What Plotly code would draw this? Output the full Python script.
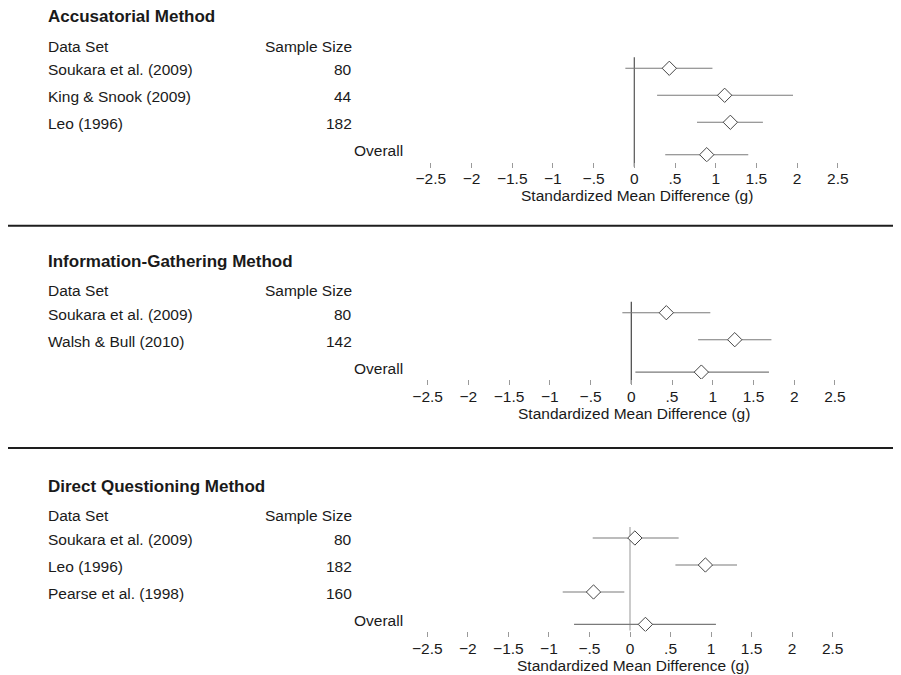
import plotly.graph_objects as go

W, H = 901, 675
OFF = 8  # default page body margin of the browser

# ---------------- data ----------------
titles = ["Accusatorial Method", "Information-Gathering Method", "Direct Questioning Method"]

acc_studies = ["Soukara et al. (2009)", "King & Snook (2009)", "Leo (1996)"]
acc_n = [80, 44, 182]
acc_g = [0.43, 1.11, 1.18]
acc_lo = [-0.11, 0.28, 0.77]
acc_hi = [0.96, 1.95, 1.58]
acc_overall = [0.89, 0.38, 1.40]  # estimate, lower, upper

ig_studies = ["Soukara et al. (2009)", "Walsh & Bull (2010)"]
ig_n = [80, 142]
ig_g = [0.43, 1.27]
ig_lo = [-0.11, 0.82]
ig_hi = [0.97, 1.72]
ig_overall = [0.86, 0.05, 1.69]

dq_studies = ["Soukara et al. (2009)", "Leo (1996)", "Pearse et al. (1998)"]
dq_n = [80, 182, 160]
dq_g = [0.06, 0.93, -0.45]
dq_lo = [-0.46, 0.56, -0.83]
dq_hi = [0.60, 1.32, -0.07]
dq_overall = [0.19, -0.69, 1.06]

tick_vals = [-2.5, -2, -1.5, -1, -0.5, 0, 0.5, 1, 1.5, 2, 2.5]
tick_text = ["\u22122.5", "\u22122", "\u22121.5", "\u22121", "\u2212.5", "0", ".5", "1", "1.5", "2", "2.5"]
x_title = "Standardized Mean Difference (g)"

panels = [
    (acc_studies, acc_n, acc_g, acc_lo, acc_hi, acc_overall),
    (ig_studies, ig_n, ig_g, ig_lo, ig_hi, ig_overall),
    (dq_studies, dq_n, dq_g, dq_lo, dq_hi, dq_overall),
]

# ---------------- layout geometry (screen pixels) ----------------
row0_px = [68.3, 312.7, 538.0]
zero_px = [634.3, 631.3, 630.0]
unit_px = [81.4, 81.46, 81.08]
zero_ext = [5, 5, -1]
zero_color = ["#555555", "#444444", "#a8a8a8"]
ROW = 27.0
GAP = 1.2
TOP = 0.41
BOT = 0.26
XR = 3.0

FW, FH = W - OFF, H - OFF

FONT = "Liberation Sans, Arial, Helvetica, sans-serif"
FS = 15.5
FS_TITLE = 17
TXT = "#1a1a1a"

def px_x(p):
    return (p - OFF) / FW

def px_y(p):
    return 1 - (p - OFF) / FH

fig = go.Figure()
annotations = []
shapes = []

for i, (studies, ns, g, lo, hi, ov) in enumerate(panels):
    k = i + 1
    sx = "" if k == 1 else str(k)
    n = len(studies)
    ypos = list(range(n)) + [n - 1 + GAP]
    est = g + [ov[0]]
    lows = lo + [ov[1]]
    highs = hi + [ov[2]]
    r0 = row0_px[i]
    top_px = r0 - TOP * ROW
    bot_px = r0 + (n - 1 + GAP + BOT) * ROW
    z = zero_px[i]
    u = unit_px[i]

    fig.add_trace(go.Scatter(
        x=est, y=ypos, mode="markers",
        xaxis="x" + sx, yaxis="y" + sx,
        marker=dict(symbol="diamond", size=11, color="white",
                    line=dict(color="#444444", width=1)),
        error_x=dict(type="data", symmetric=False,
                     array=[h - e for h, e in zip(highs, est)],
                     arrayminus=[e - l for e, l in zip(est, lows)],
                     color="#7a7a7a", thickness=1.1, width=0),
        showlegend=False, hoverinfo="x",
    ))

    fig.update_layout(**{
        "xaxis" + sx: dict(
            domain=[px_x(z - XR * u), px_x(z + XR * u)],
            range=[-XR, XR], tickvals=tick_vals, ticktext=tick_text,
            ticks="outside", ticklen=5, tickwidth=1, tickcolor="#9a9a9a",
            showgrid=False, zeroline=False, showline=False,
            tickfont=dict(family=FONT, size=FS, color=TXT),
            ticklabelstandoff=-2,
            anchor="y" + sx, fixedrange=True,
        ),
        "yaxis" + sx: dict(
            domain=[px_y(bot_px), px_y(top_px)],
            range=[n - 1 + GAP + BOT, -TOP],
            visible=False, fixedrange=True,
            anchor="x" + sx,
        ),
    })

    # zero reference line
    shapes.append(dict(type="line", xref="x" + sx, yref="paper",
                       x0=0, x1=0, y0=px_y(bot_px + zero_ext[i]), y1=px_y(top_px),
                       line=dict(color=zero_color[i], width=1.2), layer="below"))

    # texts
    annotations.append(dict(text="<b>" + titles[i] + "</b>", xref="paper", yref="paper",
                            x=px_x(46), y=px_y(r0 - 51.5), xanchor="left", yanchor="middle",
                            showarrow=False, font=dict(family=FONT, size=FS_TITLE, color=TXT)))
    annotations.append(dict(text="Data Set", xref="paper", yref="paper",
                            x=px_x(46), y=px_y(r0 - 22.3), xanchor="left", yanchor="middle",
                            showarrow=False, font=dict(family=FONT, size=FS, color=TXT)))
    annotations.append(dict(text="Sample Size", xref="paper", yref="paper",
                            x=px_x(354), y=px_y(r0 - 22.3), xanchor="right", yanchor="middle",
                            showarrow=False, font=dict(family=FONT, size=FS, color=TXT)))
    for j in range(n):
        yy = px_y(r0 + j * ROW + 1.3)
        annotations.append(dict(text=studies[j], xref="paper", yref="paper",
                                x=px_x(46), y=yy, xanchor="left", yanchor="middle",
                                showarrow=False, font=dict(family=FONT, size=FS, color=TXT)))
        annotations.append(dict(text=str(ns[j]), xref="paper", yref="paper",
                                x=px_x(354), y=yy, xanchor="right", yanchor="middle",
                                showarrow=False, font=dict(family=FONT, size=FS, color=TXT)))
    annotations.append(dict(text="Overall", xref="paper", yref="paper",
                            x=px_x(405), y=px_y(r0 + (n - 1 + GAP) * ROW - 4),
                            xanchor="right", yanchor="middle",
                            showarrow=False, font=dict(family=FONT, size=FS, color=TXT)))
    annotations.append(dict(text=x_title, xref="paper", yref="paper",
                            x=px_x(z + 3), y=px_y(bot_px + 34), xanchor="center", yanchor="middle",
                            showarrow=False, font=dict(family=FONT, size=FS, color=TXT)))

# separators
for sep in [225.7, 448.0]:
    shapes.append(dict(type="line", xref="paper", yref="paper",
                       x0=px_x(6), x1=1, y0=px_y(sep), y1=px_y(sep),
                       line=dict(color="#1e1e1e", width=2)))

fig.update_layout(
    width=FW, height=FH,
    margin=dict(l=0, r=0, t=0, b=0),
    paper_bgcolor="white", plot_bgcolor="white",
    font=dict(family=FONT, size=FS, color=TXT),
    annotations=annotations, shapes=shapes,
    showlegend=False,
)

fig.write_html("out.html")
